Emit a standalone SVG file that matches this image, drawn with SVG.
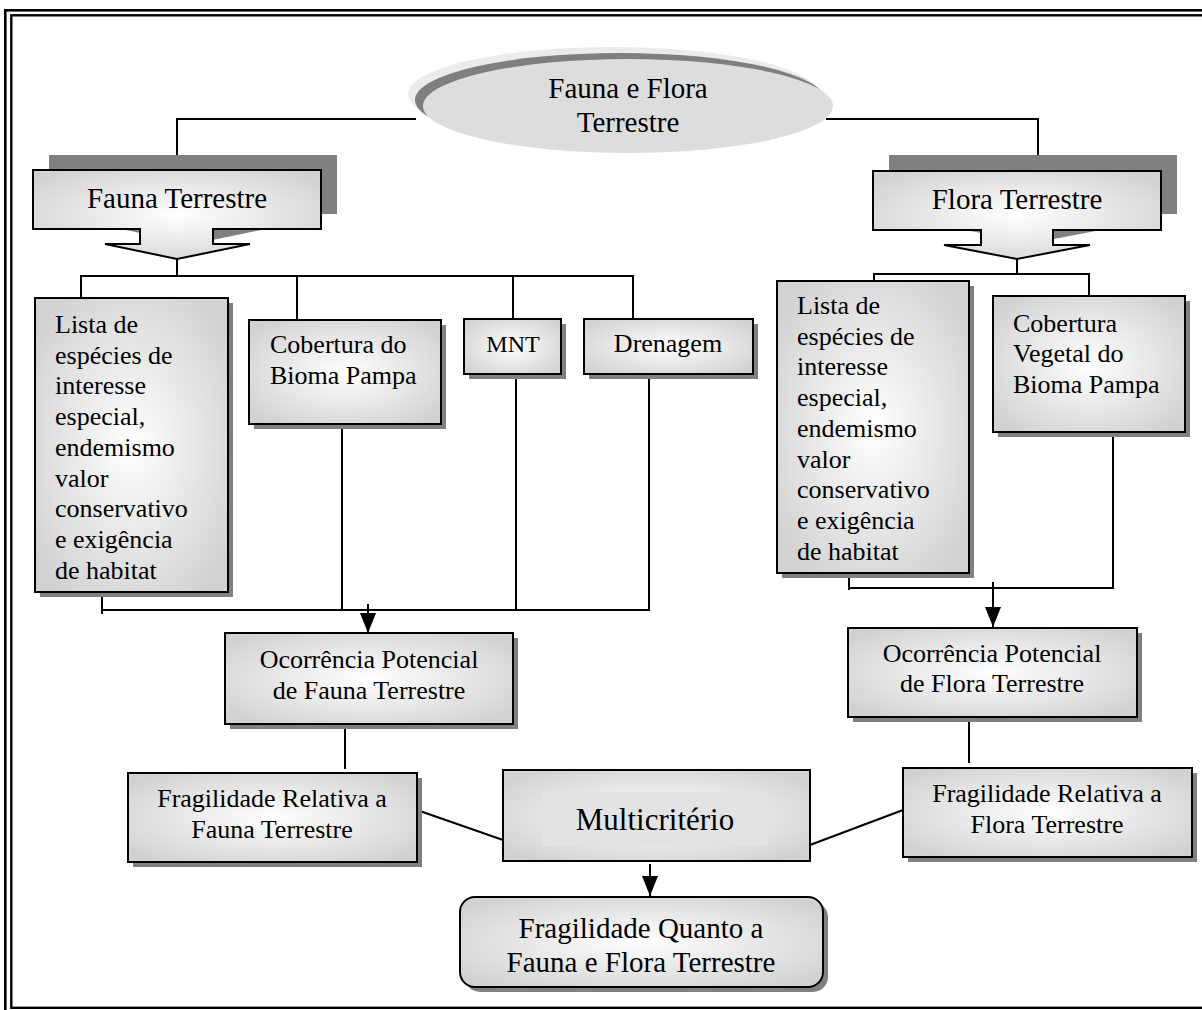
<svg xmlns="http://www.w3.org/2000/svg" width="1202" height="1010" viewBox="0 0 1202 1010">
  <style>
    .box { fill: url(#boxFill); stroke: #000; stroke-width: 2; }
    .shadow { fill: #808080; }
    .wire { fill: none; stroke: #000; stroke-width: 2; }
    text { font-family: "Liberation Serif", "Times New Roman", serif; fill: #000; }
    .t26 { font-size: 26px; }
    .t24 { font-size: 24px; }
    .t29 { font-size: 29px; }
    .t31 { font-size: 31px; }
    .mid { text-anchor: middle; }
  </style>
  <defs>
    <radialGradient id="boxFill" cx="50%" cy="50%" r="62%">
      <stop offset="0" stop-color="#ffffff"/>
      <stop offset="1" stop-color="#d2d2d2"/>
    </radialGradient>
    <marker id="arrow" viewBox="0 0 20 16" refX="20" refY="8" markerWidth="20" markerHeight="16" markerUnits="userSpaceOnUse" orient="auto">
      <path d="M0,0 L20,8 L0,16 Z" fill="#000"/>
    </marker>
  </defs>

  <rect width="1202" height="1010" fill="#fff"/>

  <!-- double page frame -->
  <rect x="5.3" y="10.3" width="1210" height="1010" fill="none" stroke="#000" stroke-width="2.6"/>
  <rect x="11.3" y="15.3" width="1200" height="992.5" fill="none" stroke="#000" stroke-width="2.4"/>

  <!-- connectors -->
  <g id="connectors">
    <path class="wire" d="M416,119 H177 V155"/>
    <path class="wire" d="M826,119 H1038 V163"/>
    <path class="wire" d="M177,259 V276 M81,298 V276 H633 V320 M297,276 V320 M513,276 V320"/>
    <path class="wire" d="M102,592 V614 M102,610 H649 V374 M342,424 V610 M516,374 V610"/>
    <path class="wire" d="M368,604 V633" marker-end="url(#arrow)"/>
    <path class="wire" d="M1017,259 V274 M874,281 V274 H1089 V296"/>
    <path class="wire" d="M849,573 V590 M849,588 H1113 V432"/>
    <path class="wire" d="M993,582 V627" marker-end="url(#arrow)"/>
    <path class="wire" d="M345,724 V769"/>
    <path class="wire" d="M969,717 V763"/>
    <path class="wire" d="M417,810 L503,840"/>
    <path class="wire" d="M810,845 L903,810"/>
    <path class="wire" d="M650,864 V896" marker-end="url(#arrow)"/>
  </g>

  <!-- root ellipse -->
  <g id="root">
    <ellipse cx="613" cy="94" rx="205" ry="47" fill="#ebebeb"/>
    <ellipse cx="620" cy="100" rx="205" ry="47" fill="#7f7f7f"/>
    <ellipse cx="628" cy="106" rx="205" ry="47" fill="#dddddd"/>
    <text class="t29 mid" x="628" y="98">Fauna e Flora</text>
    <text class="t29 mid" x="628" y="132">Terrestre</text>
  </g>

  <!-- fauna header callout -->
  <g id="fauna-header">
    <path class="shadow" transform="translate(16,-15)" d="M33,170 H321 V229 H213 V244 H250 L177,259 L105,244 H140 V229 H33 Z"/>
    <path class="box" d="M33,170 H321 V229 H213 V244 H250 L177,259 L105,244 H140 V229 H33 Z"/>
    <text class="t29 mid" x="177" y="208">Fauna Terrestre</text>
  </g>

  <!-- flora header callout -->
  <g id="flora-header">
    <path class="shadow" transform="translate(16,-16)" d="M873,171 H1161 V230 H1053 V245 H1090 L1017,259 L944,245 H981 V230 H873 Z"/>
    <path class="box" d="M873,171 H1161 V230 H1053 V245 H1090 L1017,259 L944,245 H981 V230 H873 Z"/>
    <text class="t29 mid" x="1017" y="209">Flora Terrestre</text>
  </g>

  <g id="fauna-lista">
    <rect class="shadow" x="40" y="303" width="193" height="294"/>
    <rect class="box" x="35" y="298" width="193" height="294"/>
    <text class="t26" x="55">
      <tspan x="55" y="333">Lista de</tspan>
      <tspan x="55" y="363.7">espécies de</tspan>
      <tspan x="55" y="394.4">interesse</tspan>
      <tspan x="55" y="425.1">especial,</tspan>
      <tspan x="55" y="455.8">endemismo</tspan>
      <tspan x="55" y="486.5">valor</tspan>
      <tspan x="55" y="517.2">conservativo</tspan>
      <tspan x="55" y="547.9">e exigência</tspan>
      <tspan x="55" y="578.6">de habitat</tspan>
    </text>
  </g>

  <g id="fauna-cobertura">
    <rect class="shadow" x="254" y="325" width="192" height="104"/>
    <rect class="box" x="249" y="320" width="192" height="104"/>
    <text class="t26" x="270" y="353">Cobertura do</text>
    <text class="t26" x="270" y="384">Bioma Pampa</text>
  </g>

  <g id="mnt">
    <rect class="shadow" x="469" y="324" width="97" height="55"/>
    <rect class="box" x="464" y="319" width="97" height="55"/>
    <text class="t24 mid" x="513" y="352">MNT</text>
  </g>

  <g id="drenagem">
    <rect class="shadow" x="589" y="324" width="169" height="55"/>
    <rect class="box" x="584" y="319" width="169" height="55"/>
    <text class="t26 mid" x="668" y="352">Drenagem</text>
  </g>

  <g id="flora-lista">
    <rect class="shadow" x="782" y="286" width="192" height="292"/>
    <rect class="box" x="777" y="281" width="192" height="292"/>
    <text class="t26" x="797">
      <tspan x="797" y="314">Lista de</tspan>
      <tspan x="797" y="344.7">espécies de</tspan>
      <tspan x="797" y="375.4">interesse</tspan>
      <tspan x="797" y="406.1">especial,</tspan>
      <tspan x="797" y="436.8">endemismo</tspan>
      <tspan x="797" y="467.5">valor</tspan>
      <tspan x="797" y="498.2">conservativo</tspan>
      <tspan x="797" y="528.9">e exigência</tspan>
      <tspan x="797" y="559.6">de habitat</tspan>
    </text>
  </g>

  <g id="flora-cobertura">
    <rect class="shadow" x="998" y="301" width="192" height="136"/>
    <rect class="box" x="993" y="296" width="192" height="136"/>
    <text class="t26" x="1013" y="332">Cobertura</text>
    <text class="t26" x="1013" y="362">Vegetal do</text>
    <text class="t26" x="1013" y="393">Bioma Pampa</text>
  </g>

  <g id="fauna-ocorrencia">
    <rect class="shadow" x="230" y="638" width="288" height="91"/>
    <rect class="box" x="225" y="633" width="288" height="91"/>
    <text class="t26 mid" x="369" y="668">Ocorrência Potencial</text>
    <text class="t26 mid" x="369" y="699">de Fauna Terrestre</text>
  </g>

  <g id="flora-ocorrencia">
    <rect class="shadow" x="853" y="633" width="289" height="89"/>
    <rect class="box" x="848" y="628" width="289" height="89"/>
    <text class="t26 mid" x="992" y="662">Ocorrência Potencial</text>
    <text class="t26 mid" x="992" y="692">de Flora Terrestre</text>
  </g>

  <g id="fauna-fragilidade">
    <rect class="shadow" x="133" y="778" width="289" height="89"/>
    <rect class="box" x="128" y="773" width="289" height="89"/>
    <text class="t26 mid" x="272" y="807">Fragilidade Relativa a</text>
    <text class="t26 mid" x="272" y="838">Fauna Terrestre</text>
  </g>

  <g id="flora-fragilidade">
    <rect class="shadow" x="908" y="773" width="289" height="89"/>
    <rect class="box" x="903" y="768" width="289" height="89"/>
    <text class="t26 mid" x="1047" y="802">Fragilidade Relativa a</text>
    <text class="t26 mid" x="1047" y="833">Flora Terrestre</text>
  </g>

  <g id="multicriterio">
    <rect class="box" x="503" y="770" width="307" height="91"/>
    <rect x="542" y="792" width="226" height="54" fill="#e3e3e3"/>
    <text class="t31 mid" x="655" y="830">Multicritério</text>
  </g>

  <g id="resultado">
    <rect class="shadow" x="465" y="902" width="363" height="90" rx="15"/>
    <rect class="box" x="460" y="897" width="363" height="90" rx="15"/>
    <text class="t29 mid" x="641" y="938">Fragilidade Quanto a</text>
    <text class="t29 mid" x="641" y="972">Fauna e Flora Terrestre</text>
  </g>
</svg>
